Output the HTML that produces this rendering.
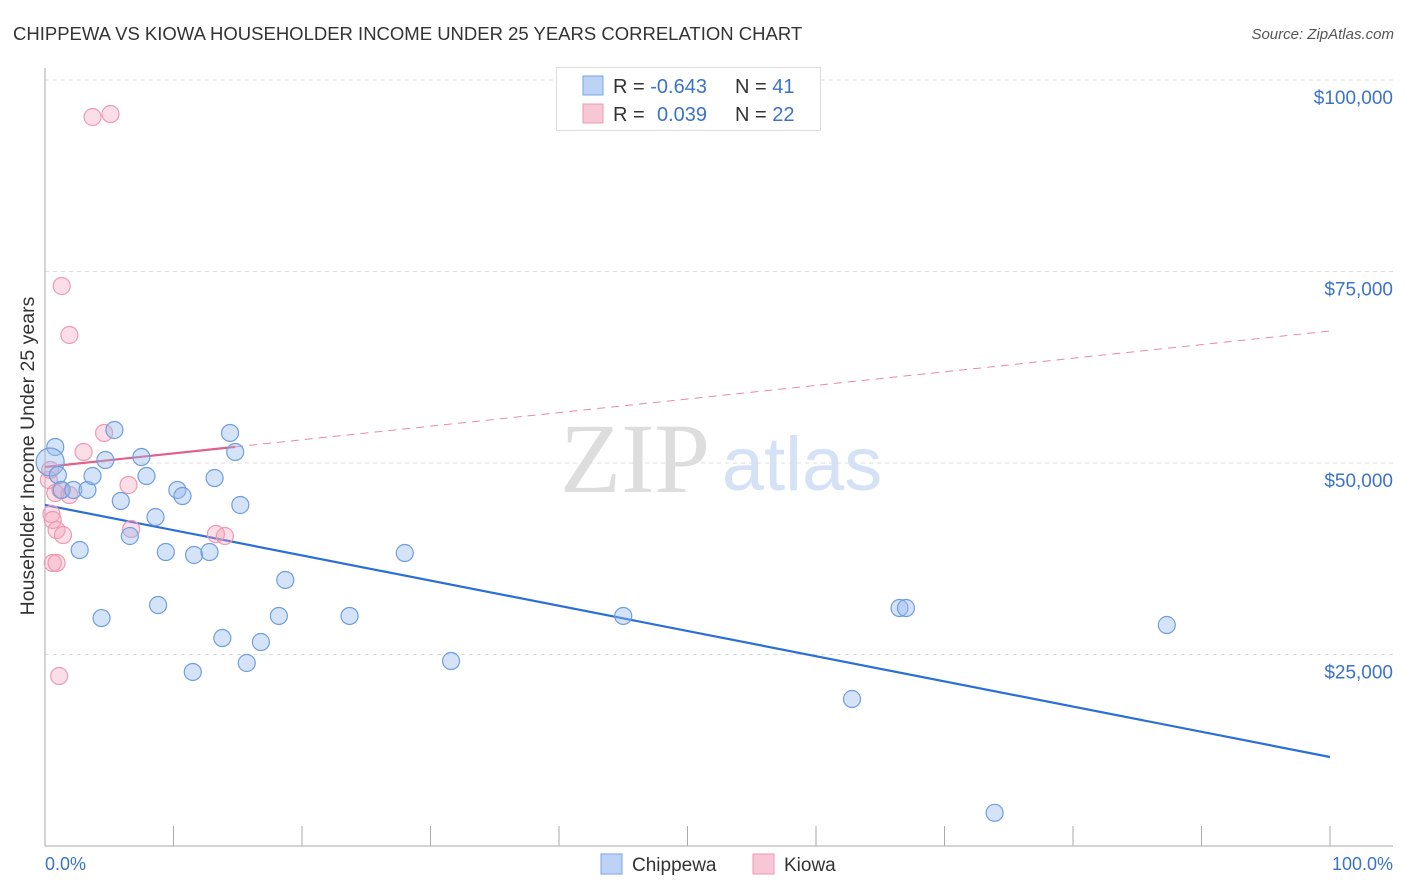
<!DOCTYPE html>
<html><head><meta charset="utf-8"><style>
body{margin:0;background:#fff;font-family:"Liberation Sans",sans-serif;}
svg{display:block}
</style></head><body>
<svg id="chart" width="1406" height="892">
<text x="13" y="40" font-size="18.5" fill="#333">CHIPPEWA VS KIOWA HOUSEHOLDER INCOME UNDER 25 YEARS CORRELATION CHART</text>
<text x="1394" y="39" font-size="15" fill="#555" text-anchor="end" font-style="italic">Source: ZipAtlas.com</text>
<text x="635" y="492" font-size="100" fill="#ddd" font-family="Liberation Serif" text-anchor="middle">ZIP</text>
<text x="802" y="490" font-size="76" fill="#d5e2f5" text-anchor="middle">atlas</text>
<g id="grid"></g><g id="axes"></g><g id="lines"></g><g id="pts"></g>
<text transform="translate(34,456) rotate(-90)" font-size="19.5" fill="#333" text-anchor="middle">Householder Income Under 25 years</text>
<text x="45" y="870" font-size="18" fill="#3b73c8">0.0%</text>
<text x="1393" y="870" font-size="18" fill="#3b73c8" text-anchor="end">100.0%</text>
<g>
<rect x="556.5" y="67.5" width="264" height="63" fill="#fff" stroke="#ddd"/>
<rect x="583" y="76" width="20" height="19" fill="#bcd3f5" stroke="#7aa5e6"/>
<rect x="583" y="104" width="20" height="19" fill="#f8c7d5" stroke="#ee9ab3"/>
<text x="613" y="93" font-size="20" fill="#333">R = <tspan fill="#3b73c8">-0.643</tspan><tspan x="735">N = </tspan><tspan fill="#3b73c8">41</tspan></text>
<text x="613" y="121" font-size="20" fill="#333">R = <tspan x="657" fill="#3b73c8">0.039</tspan><tspan x="735">N = </tspan><tspan fill="#3b73c8">22</tspan></text>
</g>
<g>
<rect x="601" y="854" width="21" height="20" fill="#bcd3f5" stroke="#7aa5e6"/>
<text x="632" y="871" font-size="19" fill="#333">Chippewa</text>
<rect x="753" y="854" width="21" height="20" fill="#f8c7d5" stroke="#ee9ab3"/>
<text x="784" y="871" font-size="19" fill="#333">Kiowa</text>
</g>
</svg>
<script>
const yTicks=[25000,50000,75000,100000];
const yTickLabels=["$25,000","$50,000","$75,000","$100,000"];
const blueX=[0.8,0.4,1.0,1.3,2.2,3.3,3.7,4.7,5.4,5.9,6.6,7.5,7.9,8.6,8.8,9.4,10.3,10.7,11.5,11.6,12.8,13.2,13.8,14.4,14.8,15.2,15.7,16.8,18.2,18.7,23.7,28.0,31.6,45.0,62.8,66.5,67.0,73.9,87.3,2.7,4.4];
const blueY=[52090,50130,48430,46480,46480,46480,48300,50390,54310,45040,40470,50780,48300,42950,31460,38380,46480,45690,22720,37990,38380,48040,27150,53920,51440,44520,23890,26630,30030,34730,30030,38250,24150,30030,19190,31070,31070,4330,28850,38640,29760];
const pinkX=[3.7,5.1,1.3,1.9,4.6,3.0,6.5,1.9,1.2,0.8,0.3,0.5,0.6,0.9,1.4,6.7,13.3,14.0,0.6,0.9,1.1,0.4];
const pinkY=[95170,95560,73110,66710,53920,51440,47130,45820,46480,46080,47780,43340,42560,41250,40600,41380,40730,40470,36950,36950,22190,49090];
const blueTrend=[44520,11620];
const pinkTrend=[49480,67230];
const pinkSolidEnd=14.8;
const NS="http://www.w3.org/2000/svg";
const xs=p=>45+p*12.85;
const ys=v=>463-(v-50000)*191.5/25000;
function mk(t,a,parent){const e=document.createElementNS(NS,t);for(const k in a)e.setAttribute(k,a[k]);parent.appendChild(e);return e;}
const grid=document.getElementById('grid'),axes=document.getElementById('axes'),lines=document.getElementById('lines'),pts=document.getElementById('pts');
yTicks.forEach((v,i)=>{
 const l=mk('line',{x1:45,x2:1393,y1:ys(v),y2:ys(v),stroke:'#ddd','stroke-dasharray':'4,4'},grid);
 
 
 const t=mk('text',{x:1393,y:ys(v)+24,'font-size':19,fill:'#3b73c8','text-anchor':'end'},grid);
 t.textContent=yTickLabels[i];
 
 
});
const ya=mk('line',{x1:45,x2:45,y1:68,y2:846,stroke:'#aaa'},axes);


const xa=mk('line',{x1:45,x2:1393,y1:846,y2:846,stroke:'#aaa'},axes);


for(let i=1;i<=10;i++){const t=mk('line',{x1:xs(i*10),x2:xs(i*10),y1:826,y2:846,stroke:'#aaa'},axes);
 
 }
const tl=p=>blueTrend[0]+(blueTrend[1]-blueTrend[0])*p/100;
const pl=p=>pinkTrend[0]+(pinkTrend[1]-pinkTrend[0])*p/100;
const b=mk('line',{x1:xs(0),y1:ys(tl(0)),x2:xs(100),y2:ys(tl(100)),stroke:'#2a6fd6','stroke-width':2.2},lines);


const pd=mk('line',{x1:xs(pinkSolidEnd),y1:ys(pl(pinkSolidEnd)),x2:xs(100),y2:ys(pl(100)),stroke:'#e88aa6','stroke-width':1,'stroke-dasharray':'8,6'},lines);


const ps=mk('line',{x1:xs(0),y1:ys(pl(0)),x2:xs(pinkSolidEnd),y2:ys(pl(pinkSolidEnd)),stroke:'#e0608a','stroke-width':2.2},lines);


pinkX.forEach((x,i)=>{const c=mk('circle',{cx:xs(x),cy:ys(pinkY[i]),r:8.5,fill:'rgba(244,160,185,0.35)',stroke:'#ee9ab3','stroke-width':1.2},pts);
 
 });
blueX.forEach((x,i)=>{const c=mk('circle',{cx:xs(x),cy:ys(blueY[i]),r:i==1?14:8.5,fill:'rgba(150,186,238,0.4)',stroke:'#6f9ee0','stroke-width':1.2},pts);
 
 });
</script>
</body></html>
